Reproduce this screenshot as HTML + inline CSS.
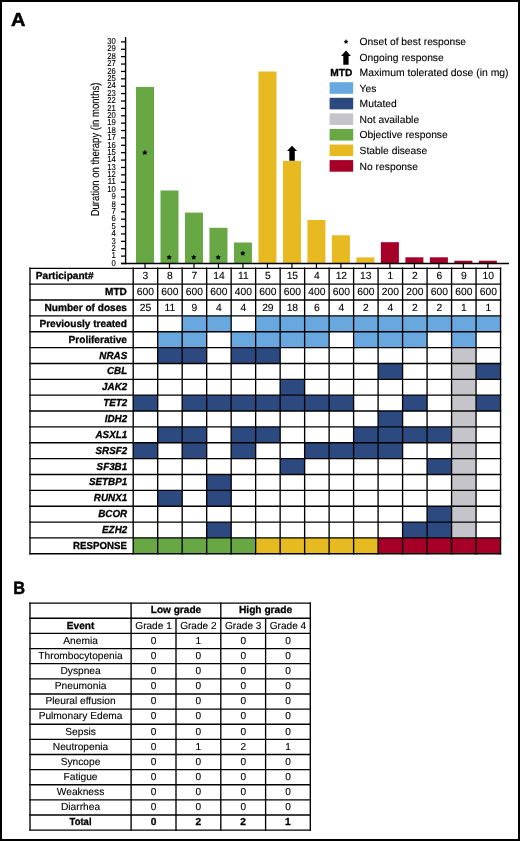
<!DOCTYPE html>
<html><head><meta charset="utf-8"><style>
html,body{margin:0;padding:0;background:#fff;}
#fig{position:relative;width:520px;height:841px;box-sizing:border-box;border:2px solid #000;overflow:hidden;background:#fff;}
svg{position:absolute;left:-2px;top:-2px;will-change:transform;}
text{text-rendering:geometricPrecision;font-family:"Liberation Sans",sans-serif;fill:#000;stroke:#000;stroke-width:0.12px;}
</style></head><body><div id="fig">
<svg width="520" height="841" viewBox="0 0 520 841">
<rect x="136.00" y="86.90" width="18.00" height="176.60" fill="#67A845"/>
<rect x="160.49" y="190.50" width="18.00" height="73.00" fill="#67A845"/>
<rect x="184.97" y="212.60" width="18.00" height="50.90" fill="#67A845"/>
<rect x="209.46" y="227.80" width="18.00" height="35.70" fill="#67A845"/>
<rect x="233.95" y="242.50" width="18.00" height="21.00" fill="#67A845"/>
<rect x="258.44" y="71.50" width="18.00" height="192.00" fill="#E7BA22"/>
<rect x="282.94" y="160.90" width="18.00" height="102.60" fill="#E7BA22"/>
<rect x="307.42" y="220.00" width="18.00" height="43.50" fill="#E7BA22"/>
<rect x="331.91" y="235.30" width="18.00" height="28.20" fill="#E7BA22"/>
<rect x="356.40" y="257.40" width="18.00" height="6.10" fill="#E7BA22"/>
<rect x="380.89" y="242.20" width="18.00" height="21.30" fill="#A60028"/>
<rect x="405.38" y="257.30" width="18.00" height="6.20" fill="#A60028"/>
<rect x="429.88" y="257.30" width="18.00" height="6.20" fill="#A60028"/>
<rect x="454.36" y="260.70" width="18.00" height="2.80" fill="#A60028"/>
<rect x="478.85" y="260.70" width="18.00" height="2.80" fill="#A60028"/>
<line x1="125.6" y1="37.1" x2="125.6" y2="264.2" stroke="#000" stroke-width="1.4"/>
<line x1="121" y1="263.50" x2="125.6" y2="263.50" stroke="#000" stroke-width="1.3"/>
<text transform="translate(115.90,265.70) scale(0.9,1)" font-size="8.6" text-anchor="end">0</text>
<line x1="121" y1="256.11" x2="125.6" y2="256.11" stroke="#000" stroke-width="1.3"/>
<text transform="translate(115.90,258.31) scale(0.9,1)" font-size="8.6" text-anchor="end">1</text>
<line x1="121" y1="248.73" x2="125.6" y2="248.73" stroke="#000" stroke-width="1.3"/>
<text transform="translate(115.90,250.93) scale(0.9,1)" font-size="8.6" text-anchor="end">2</text>
<line x1="121" y1="241.34" x2="125.6" y2="241.34" stroke="#000" stroke-width="1.3"/>
<text transform="translate(115.90,243.54) scale(0.9,1)" font-size="8.6" text-anchor="end">3</text>
<line x1="121" y1="233.95" x2="125.6" y2="233.95" stroke="#000" stroke-width="1.3"/>
<text transform="translate(115.90,236.15) scale(0.9,1)" font-size="8.6" text-anchor="end">4</text>
<line x1="121" y1="226.56" x2="125.6" y2="226.56" stroke="#000" stroke-width="1.3"/>
<text transform="translate(115.90,228.76) scale(0.9,1)" font-size="8.6" text-anchor="end">5</text>
<line x1="121" y1="219.18" x2="125.6" y2="219.18" stroke="#000" stroke-width="1.3"/>
<text transform="translate(115.90,221.38) scale(0.9,1)" font-size="8.6" text-anchor="end">6</text>
<line x1="121" y1="211.79" x2="125.6" y2="211.79" stroke="#000" stroke-width="1.3"/>
<text transform="translate(115.90,213.99) scale(0.9,1)" font-size="8.6" text-anchor="end">7</text>
<line x1="121" y1="204.40" x2="125.6" y2="204.40" stroke="#000" stroke-width="1.3"/>
<text transform="translate(115.90,206.60) scale(0.9,1)" font-size="8.6" text-anchor="end">8</text>
<line x1="121" y1="197.02" x2="125.6" y2="197.02" stroke="#000" stroke-width="1.3"/>
<text transform="translate(115.90,199.22) scale(0.9,1)" font-size="8.6" text-anchor="end">9</text>
<line x1="121" y1="189.63" x2="125.6" y2="189.63" stroke="#000" stroke-width="1.3"/>
<text transform="translate(115.90,191.83) scale(0.9,1)" font-size="8.6" text-anchor="end">10</text>
<line x1="121" y1="182.24" x2="125.6" y2="182.24" stroke="#000" stroke-width="1.3"/>
<text transform="translate(115.90,184.44) scale(0.9,1)" font-size="8.6" text-anchor="end">11</text>
<line x1="121" y1="174.86" x2="125.6" y2="174.86" stroke="#000" stroke-width="1.3"/>
<text transform="translate(115.90,177.06) scale(0.9,1)" font-size="8.6" text-anchor="end">12</text>
<line x1="121" y1="167.47" x2="125.6" y2="167.47" stroke="#000" stroke-width="1.3"/>
<text transform="translate(115.90,169.67) scale(0.9,1)" font-size="8.6" text-anchor="end">13</text>
<line x1="121" y1="160.08" x2="125.6" y2="160.08" stroke="#000" stroke-width="1.3"/>
<text transform="translate(115.90,162.28) scale(0.9,1)" font-size="8.6" text-anchor="end">14</text>
<line x1="121" y1="152.69" x2="125.6" y2="152.69" stroke="#000" stroke-width="1.3"/>
<text transform="translate(115.90,154.89) scale(0.9,1)" font-size="8.6" text-anchor="end">15</text>
<line x1="121" y1="145.31" x2="125.6" y2="145.31" stroke="#000" stroke-width="1.3"/>
<text transform="translate(115.90,147.51) scale(0.9,1)" font-size="8.6" text-anchor="end">16</text>
<line x1="121" y1="137.92" x2="125.6" y2="137.92" stroke="#000" stroke-width="1.3"/>
<text transform="translate(115.90,140.12) scale(0.9,1)" font-size="8.6" text-anchor="end">17</text>
<line x1="121" y1="130.53" x2="125.6" y2="130.53" stroke="#000" stroke-width="1.3"/>
<text transform="translate(115.90,132.73) scale(0.9,1)" font-size="8.6" text-anchor="end">18</text>
<line x1="121" y1="123.15" x2="125.6" y2="123.15" stroke="#000" stroke-width="1.3"/>
<text transform="translate(115.90,125.35) scale(0.9,1)" font-size="8.6" text-anchor="end">19</text>
<line x1="121" y1="115.76" x2="125.6" y2="115.76" stroke="#000" stroke-width="1.3"/>
<text transform="translate(115.90,117.96) scale(0.9,1)" font-size="8.6" text-anchor="end">20</text>
<line x1="121" y1="108.37" x2="125.6" y2="108.37" stroke="#000" stroke-width="1.3"/>
<text transform="translate(115.90,110.57) scale(0.9,1)" font-size="8.6" text-anchor="end">21</text>
<line x1="121" y1="100.99" x2="125.6" y2="100.99" stroke="#000" stroke-width="1.3"/>
<text transform="translate(115.90,103.19) scale(0.9,1)" font-size="8.6" text-anchor="end">22</text>
<line x1="121" y1="93.60" x2="125.6" y2="93.60" stroke="#000" stroke-width="1.3"/>
<text transform="translate(115.90,95.80) scale(0.9,1)" font-size="8.6" text-anchor="end">23</text>
<line x1="121" y1="86.21" x2="125.6" y2="86.21" stroke="#000" stroke-width="1.3"/>
<text transform="translate(115.90,88.41) scale(0.9,1)" font-size="8.6" text-anchor="end">24</text>
<line x1="121" y1="78.83" x2="125.6" y2="78.83" stroke="#000" stroke-width="1.3"/>
<text transform="translate(115.90,81.03) scale(0.9,1)" font-size="8.6" text-anchor="end">25</text>
<line x1="121" y1="71.44" x2="125.6" y2="71.44" stroke="#000" stroke-width="1.3"/>
<text transform="translate(115.90,73.64) scale(0.9,1)" font-size="8.6" text-anchor="end">26</text>
<line x1="121" y1="64.05" x2="125.6" y2="64.05" stroke="#000" stroke-width="1.3"/>
<text transform="translate(115.90,66.25) scale(0.9,1)" font-size="8.6" text-anchor="end">27</text>
<line x1="121" y1="56.66" x2="125.6" y2="56.66" stroke="#000" stroke-width="1.3"/>
<text transform="translate(115.90,58.86) scale(0.9,1)" font-size="8.6" text-anchor="end">28</text>
<line x1="121" y1="49.28" x2="125.6" y2="49.28" stroke="#000" stroke-width="1.3"/>
<text transform="translate(115.90,51.48) scale(0.9,1)" font-size="8.6" text-anchor="end">29</text>
<line x1="121" y1="41.89" x2="125.6" y2="41.89" stroke="#000" stroke-width="1.3"/>
<text transform="translate(115.90,44.09) scale(0.9,1)" font-size="8.6" text-anchor="end">30</text>
<line x1="121" y1="263.5" x2="509" y2="263.5" stroke="#000" stroke-width="1.3"/>
<line x1="145.00" y1="263.5" x2="145.00" y2="268.3" stroke="#000" stroke-width="1.2"/>
<line x1="169.49" y1="263.5" x2="169.49" y2="268.3" stroke="#000" stroke-width="1.2"/>
<line x1="193.97" y1="263.5" x2="193.97" y2="268.3" stroke="#000" stroke-width="1.2"/>
<line x1="218.46" y1="263.5" x2="218.46" y2="268.3" stroke="#000" stroke-width="1.2"/>
<line x1="242.95" y1="263.5" x2="242.95" y2="268.3" stroke="#000" stroke-width="1.2"/>
<line x1="267.44" y1="263.5" x2="267.44" y2="268.3" stroke="#000" stroke-width="1.2"/>
<line x1="291.94" y1="263.5" x2="291.94" y2="268.3" stroke="#000" stroke-width="1.2"/>
<line x1="316.42" y1="263.5" x2="316.42" y2="268.3" stroke="#000" stroke-width="1.2"/>
<line x1="340.91" y1="263.5" x2="340.91" y2="268.3" stroke="#000" stroke-width="1.2"/>
<line x1="365.40" y1="263.5" x2="365.40" y2="268.3" stroke="#000" stroke-width="1.2"/>
<line x1="389.89" y1="263.5" x2="389.89" y2="268.3" stroke="#000" stroke-width="1.2"/>
<line x1="414.38" y1="263.5" x2="414.38" y2="268.3" stroke="#000" stroke-width="1.2"/>
<line x1="438.88" y1="263.5" x2="438.88" y2="268.3" stroke="#000" stroke-width="1.2"/>
<line x1="463.36" y1="263.5" x2="463.36" y2="268.3" stroke="#000" stroke-width="1.2"/>
<line x1="487.85" y1="263.5" x2="487.85" y2="268.3" stroke="#000" stroke-width="1.2"/>
<text transform="translate(98.6,149.5) rotate(-90) scale(0.82,1)" text-anchor="middle" font-size="11.6">Duration on therapy (in months)</text>
<polygon points="144.80,149.70 145.65,151.43 147.56,151.70 146.18,153.05 146.50,154.95 144.80,154.05 143.10,154.95 143.42,153.05 142.04,151.70 143.95,151.43" fill="#000"/>
<polygon points="169.10,254.50 169.95,256.23 171.86,256.50 170.48,257.85 170.80,259.75 169.10,258.85 167.40,259.75 167.72,257.85 166.34,256.50 168.25,256.23" fill="#000"/>
<polygon points="193.80,254.50 194.65,256.23 196.56,256.50 195.18,257.85 195.50,259.75 193.80,258.85 192.10,259.75 192.42,257.85 191.04,256.50 192.95,256.23" fill="#000"/>
<polygon points="218.20,254.50 219.05,256.23 220.96,256.50 219.58,257.85 219.90,259.75 218.20,258.85 216.50,259.75 216.82,257.85 215.44,256.50 217.35,256.23" fill="#000"/>
<polygon points="242.80,250.50 243.65,252.23 245.56,252.50 244.18,253.85 244.50,255.75 242.80,254.85 241.10,255.75 241.42,253.85 240.04,252.50 241.95,252.23" fill="#000"/>
<polygon points="292.05,145.80 297.10,151.00 294.80,151.00 294.80,160.70 289.30,160.70 289.30,151.00 287.00,151.00" fill="#000"/>
<polygon points="346.05,39.10 346.81,40.65 348.52,40.90 347.29,42.10 347.58,43.80 346.05,43.00 344.52,43.80 344.81,42.10 343.58,40.90 345.29,40.65" fill="#000"/>
<polygon points="345.95,50.60 350.90,55.90 348.60,55.90 348.60,64.80 343.30,64.80 343.30,55.90 341.00,55.90" fill="#000"/>
<text x="359.60" y="44.90" font-size="10.3">Onset of best response</text>
<text x="359.60" y="60.50" font-size="10.3">Ongoing response</text>
<text x="330.30" y="76.10" font-size="10.2" font-weight="bold" style="stroke-width:0.3px">MTD</text>
<text x="359.60" y="76.10" font-size="10.4">Maximum tolerated dose (in mg)</text>
<rect x="329.6" y="82.20" width="23.6" height="11.6" fill="#68A8DE"/>
<text x="359.60" y="91.60" font-size="10.3">Yes</text>
<rect x="329.6" y="97.78" width="23.6" height="11.6" fill="#2C4A80"/>
<text x="359.60" y="107.18" font-size="10.3">Mutated</text>
<rect x="329.6" y="113.36" width="23.6" height="11.6" fill="#C5C4CA"/>
<text x="359.60" y="122.76" font-size="10.3">Not available</text>
<rect x="329.6" y="128.94" width="23.6" height="11.6" fill="#67A845"/>
<text x="359.60" y="138.34" font-size="10.3">Objective response</text>
<rect x="329.6" y="144.52" width="23.6" height="11.6" fill="#E7BA22"/>
<text x="359.60" y="153.92" font-size="10.3">Stable disease</text>
<rect x="329.6" y="160.10" width="23.6" height="11.6" fill="#A60028"/>
<text x="359.60" y="169.50" font-size="10.3">No response</text>
<rect x="182.18" y="315.88" width="24.49" height="15.86" fill="#68A8DE"/>
<rect x="206.67" y="315.88" width="24.49" height="15.86" fill="#68A8DE"/>
<rect x="255.65" y="315.88" width="24.49" height="15.86" fill="#68A8DE"/>
<rect x="280.14" y="315.88" width="24.49" height="15.86" fill="#68A8DE"/>
<rect x="304.63" y="315.88" width="24.49" height="15.86" fill="#68A8DE"/>
<rect x="329.12" y="315.88" width="24.49" height="15.86" fill="#68A8DE"/>
<rect x="353.61" y="315.88" width="24.49" height="15.86" fill="#68A8DE"/>
<rect x="378.10" y="315.88" width="24.49" height="15.86" fill="#68A8DE"/>
<rect x="402.59" y="315.88" width="24.49" height="15.86" fill="#68A8DE"/>
<rect x="427.08" y="315.88" width="24.49" height="15.86" fill="#68A8DE"/>
<rect x="451.57" y="315.88" width="24.49" height="15.86" fill="#68A8DE"/>
<rect x="476.06" y="315.88" width="24.49" height="15.86" fill="#68A8DE"/>
<rect x="157.69" y="331.74" width="24.49" height="15.86" fill="#68A8DE"/>
<rect x="182.18" y="331.74" width="24.49" height="15.86" fill="#68A8DE"/>
<rect x="231.16" y="331.74" width="24.49" height="15.86" fill="#68A8DE"/>
<rect x="255.65" y="331.74" width="24.49" height="15.86" fill="#68A8DE"/>
<rect x="280.14" y="331.74" width="24.49" height="15.86" fill="#68A8DE"/>
<rect x="304.63" y="331.74" width="24.49" height="15.86" fill="#68A8DE"/>
<rect x="353.61" y="331.74" width="24.49" height="15.86" fill="#68A8DE"/>
<rect x="378.10" y="331.74" width="24.49" height="15.86" fill="#68A8DE"/>
<rect x="402.59" y="331.74" width="24.49" height="15.86" fill="#68A8DE"/>
<rect x="451.57" y="331.74" width="24.49" height="15.86" fill="#68A8DE"/>
<rect x="157.69" y="347.60" width="24.49" height="15.86" fill="#2C4A80"/>
<rect x="182.18" y="347.60" width="24.49" height="15.86" fill="#2C4A80"/>
<rect x="231.16" y="347.60" width="24.49" height="15.86" fill="#2C4A80"/>
<rect x="255.65" y="347.60" width="24.49" height="15.86" fill="#2C4A80"/>
<rect x="451.57" y="347.60" width="24.49" height="15.86" fill="#C5C4CA"/>
<rect x="378.10" y="363.46" width="24.49" height="15.86" fill="#2C4A80"/>
<rect x="451.57" y="363.46" width="24.49" height="15.86" fill="#C5C4CA"/>
<rect x="476.06" y="363.46" width="24.49" height="15.86" fill="#2C4A80"/>
<rect x="280.14" y="379.32" width="24.49" height="15.86" fill="#2C4A80"/>
<rect x="451.57" y="379.32" width="24.49" height="15.86" fill="#C5C4CA"/>
<rect x="133.20" y="395.18" width="24.49" height="15.86" fill="#2C4A80"/>
<rect x="182.18" y="395.18" width="24.49" height="15.86" fill="#2C4A80"/>
<rect x="206.67" y="395.18" width="24.49" height="15.86" fill="#2C4A80"/>
<rect x="231.16" y="395.18" width="24.49" height="15.86" fill="#2C4A80"/>
<rect x="255.65" y="395.18" width="24.49" height="15.86" fill="#2C4A80"/>
<rect x="280.14" y="395.18" width="24.49" height="15.86" fill="#2C4A80"/>
<rect x="304.63" y="395.18" width="24.49" height="15.86" fill="#2C4A80"/>
<rect x="329.12" y="395.18" width="24.49" height="15.86" fill="#2C4A80"/>
<rect x="402.59" y="395.18" width="24.49" height="15.86" fill="#2C4A80"/>
<rect x="451.57" y="395.18" width="24.49" height="15.86" fill="#C5C4CA"/>
<rect x="476.06" y="395.18" width="24.49" height="15.86" fill="#2C4A80"/>
<rect x="378.10" y="411.04" width="24.49" height="15.86" fill="#2C4A80"/>
<rect x="451.57" y="411.04" width="24.49" height="15.86" fill="#C5C4CA"/>
<rect x="157.69" y="426.90" width="24.49" height="15.86" fill="#2C4A80"/>
<rect x="182.18" y="426.90" width="24.49" height="15.86" fill="#2C4A80"/>
<rect x="231.16" y="426.90" width="24.49" height="15.86" fill="#2C4A80"/>
<rect x="255.65" y="426.90" width="24.49" height="15.86" fill="#2C4A80"/>
<rect x="353.61" y="426.90" width="24.49" height="15.86" fill="#2C4A80"/>
<rect x="378.10" y="426.90" width="24.49" height="15.86" fill="#2C4A80"/>
<rect x="402.59" y="426.90" width="24.49" height="15.86" fill="#2C4A80"/>
<rect x="427.08" y="426.90" width="24.49" height="15.86" fill="#2C4A80"/>
<rect x="451.57" y="426.90" width="24.49" height="15.86" fill="#C5C4CA"/>
<rect x="133.20" y="442.76" width="24.49" height="15.86" fill="#2C4A80"/>
<rect x="182.18" y="442.76" width="24.49" height="15.86" fill="#2C4A80"/>
<rect x="231.16" y="442.76" width="24.49" height="15.86" fill="#2C4A80"/>
<rect x="304.63" y="442.76" width="24.49" height="15.86" fill="#2C4A80"/>
<rect x="329.12" y="442.76" width="24.49" height="15.86" fill="#2C4A80"/>
<rect x="353.61" y="442.76" width="24.49" height="15.86" fill="#2C4A80"/>
<rect x="378.10" y="442.76" width="24.49" height="15.86" fill="#2C4A80"/>
<rect x="451.57" y="442.76" width="24.49" height="15.86" fill="#C5C4CA"/>
<rect x="280.14" y="458.62" width="24.49" height="15.86" fill="#2C4A80"/>
<rect x="427.08" y="458.62" width="24.49" height="15.86" fill="#2C4A80"/>
<rect x="451.57" y="458.62" width="24.49" height="15.86" fill="#C5C4CA"/>
<rect x="206.67" y="474.48" width="24.49" height="15.86" fill="#2C4A80"/>
<rect x="451.57" y="474.48" width="24.49" height="15.86" fill="#C5C4CA"/>
<rect x="157.69" y="490.34" width="24.49" height="15.86" fill="#2C4A80"/>
<rect x="206.67" y="490.34" width="24.49" height="15.86" fill="#2C4A80"/>
<rect x="451.57" y="490.34" width="24.49" height="15.86" fill="#C5C4CA"/>
<rect x="427.08" y="506.20" width="24.49" height="15.86" fill="#2C4A80"/>
<rect x="451.57" y="506.20" width="24.49" height="15.86" fill="#C5C4CA"/>
<rect x="206.67" y="522.06" width="24.49" height="15.86" fill="#2C4A80"/>
<rect x="402.59" y="522.06" width="24.49" height="15.86" fill="#2C4A80"/>
<rect x="427.08" y="522.06" width="24.49" height="15.86" fill="#2C4A80"/>
<rect x="451.57" y="522.06" width="24.49" height="15.86" fill="#C5C4CA"/>
<rect x="133.20" y="537.92" width="24.49" height="15.86" fill="#67A845"/>
<rect x="157.69" y="537.92" width="24.49" height="15.86" fill="#67A845"/>
<rect x="182.18" y="537.92" width="24.49" height="15.86" fill="#67A845"/>
<rect x="206.67" y="537.92" width="24.49" height="15.86" fill="#67A845"/>
<rect x="231.16" y="537.92" width="24.49" height="15.86" fill="#67A845"/>
<rect x="255.65" y="537.92" width="24.49" height="15.86" fill="#E7BA22"/>
<rect x="280.14" y="537.92" width="24.49" height="15.86" fill="#E7BA22"/>
<rect x="304.63" y="537.92" width="24.49" height="15.86" fill="#E7BA22"/>
<rect x="329.12" y="537.92" width="24.49" height="15.86" fill="#E7BA22"/>
<rect x="353.61" y="537.92" width="24.49" height="15.86" fill="#E7BA22"/>
<rect x="378.10" y="537.92" width="24.49" height="15.86" fill="#A60028"/>
<rect x="402.59" y="537.92" width="24.49" height="15.86" fill="#A60028"/>
<rect x="427.08" y="537.92" width="24.49" height="15.86" fill="#A60028"/>
<rect x="451.57" y="537.92" width="24.49" height="15.86" fill="#A60028"/>
<rect x="476.06" y="537.92" width="24.49" height="15.86" fill="#A60028"/>
<line x1="29.30" y1="268.30" x2="501.25" y2="268.30" stroke="#000" stroke-width="1.35"/>
<line x1="29.30" y1="284.16" x2="501.25" y2="284.16" stroke="#000" stroke-width="1.35"/>
<line x1="29.30" y1="300.02" x2="501.25" y2="300.02" stroke="#000" stroke-width="1.35"/>
<line x1="29.30" y1="315.88" x2="501.25" y2="315.88" stroke="#000" stroke-width="1.35"/>
<line x1="29.30" y1="331.74" x2="501.25" y2="331.74" stroke="#000" stroke-width="1.35"/>
<line x1="29.30" y1="347.60" x2="501.25" y2="347.60" stroke="#000" stroke-width="1.35"/>
<line x1="29.30" y1="363.46" x2="501.25" y2="363.46" stroke="#000" stroke-width="1.35"/>
<line x1="29.30" y1="379.32" x2="501.25" y2="379.32" stroke="#000" stroke-width="1.35"/>
<line x1="29.30" y1="395.18" x2="501.25" y2="395.18" stroke="#000" stroke-width="1.35"/>
<line x1="29.30" y1="411.04" x2="501.25" y2="411.04" stroke="#000" stroke-width="1.35"/>
<line x1="29.30" y1="426.90" x2="501.25" y2="426.90" stroke="#000" stroke-width="1.35"/>
<line x1="29.30" y1="442.76" x2="501.25" y2="442.76" stroke="#000" stroke-width="1.35"/>
<line x1="29.30" y1="458.62" x2="501.25" y2="458.62" stroke="#000" stroke-width="1.35"/>
<line x1="29.30" y1="474.48" x2="501.25" y2="474.48" stroke="#000" stroke-width="1.35"/>
<line x1="29.30" y1="490.34" x2="501.25" y2="490.34" stroke="#000" stroke-width="1.35"/>
<line x1="29.30" y1="506.20" x2="501.25" y2="506.20" stroke="#000" stroke-width="1.35"/>
<line x1="29.30" y1="522.06" x2="501.25" y2="522.06" stroke="#000" stroke-width="1.35"/>
<line x1="29.30" y1="537.92" x2="501.25" y2="537.92" stroke="#000" stroke-width="1.35"/>
<line x1="29.30" y1="553.78" x2="501.25" y2="553.78" stroke="#000" stroke-width="1.35"/>
<line x1="30.00" y1="267.60" x2="30.00" y2="554.48" stroke="#000" stroke-width="1.35"/>
<line x1="133.20" y1="267.60" x2="133.20" y2="554.48" stroke="#000" stroke-width="1.35"/>
<line x1="157.69" y1="267.60" x2="157.69" y2="554.48" stroke="#000" stroke-width="1.35"/>
<line x1="182.18" y1="267.60" x2="182.18" y2="554.48" stroke="#000" stroke-width="1.35"/>
<line x1="206.67" y1="267.60" x2="206.67" y2="554.48" stroke="#000" stroke-width="1.35"/>
<line x1="231.16" y1="267.60" x2="231.16" y2="554.48" stroke="#000" stroke-width="1.35"/>
<line x1="255.65" y1="267.60" x2="255.65" y2="554.48" stroke="#000" stroke-width="1.35"/>
<line x1="280.14" y1="267.60" x2="280.14" y2="554.48" stroke="#000" stroke-width="1.35"/>
<line x1="304.63" y1="267.60" x2="304.63" y2="554.48" stroke="#000" stroke-width="1.35"/>
<line x1="329.12" y1="267.60" x2="329.12" y2="554.48" stroke="#000" stroke-width="1.35"/>
<line x1="353.61" y1="267.60" x2="353.61" y2="554.48" stroke="#000" stroke-width="1.35"/>
<line x1="378.10" y1="267.60" x2="378.10" y2="554.48" stroke="#000" stroke-width="1.35"/>
<line x1="402.59" y1="267.60" x2="402.59" y2="554.48" stroke="#000" stroke-width="1.35"/>
<line x1="427.08" y1="267.60" x2="427.08" y2="554.48" stroke="#000" stroke-width="1.35"/>
<line x1="451.57" y1="267.60" x2="451.57" y2="554.48" stroke="#000" stroke-width="1.35"/>
<line x1="476.06" y1="267.60" x2="476.06" y2="554.48" stroke="#000" stroke-width="1.35"/>
<line x1="500.55" y1="267.60" x2="500.55" y2="554.48" stroke="#000" stroke-width="1.35"/>
<text transform="translate(35.80,279.30) scale(0.99,1)" font-size="10.2" font-weight="bold" style="stroke-width:0.3px">Participant#</text>
<text transform="translate(126.90,295.16) scale(0.99,1)" font-size="10.2" font-weight="bold" text-anchor="end" style="stroke-width:0.3px">MTD</text>
<text transform="translate(126.90,311.02) scale(0.99,1)" font-size="10.2" font-weight="bold" text-anchor="end" style="stroke-width:0.3px">Number of doses</text>
<text transform="translate(126.90,326.88) scale(0.99,1)" font-size="10.2" font-weight="bold" text-anchor="end" style="stroke-width:0.3px">Previously treated</text>
<text transform="translate(126.90,342.74) scale(0.99,1)" font-size="10.2" font-weight="bold" text-anchor="end" style="stroke-width:0.3px">Proliferative</text>
<text transform="translate(127.20,358.60) scale(0.965,1)" font-size="10.2" font-weight="bold" font-style="italic" text-anchor="end" style="stroke-width:0.3px">NRAS</text>
<text transform="translate(127.20,374.46) scale(0.965,1)" font-size="10.2" font-weight="bold" font-style="italic" text-anchor="end" style="stroke-width:0.3px">CBL</text>
<text transform="translate(127.20,390.32) scale(0.965,1)" font-size="10.2" font-weight="bold" font-style="italic" text-anchor="end" style="stroke-width:0.3px">JAK2</text>
<text transform="translate(127.20,406.18) scale(0.965,1)" font-size="10.2" font-weight="bold" font-style="italic" text-anchor="end" style="stroke-width:0.3px">TET2</text>
<text transform="translate(127.20,422.04) scale(0.965,1)" font-size="10.2" font-weight="bold" font-style="italic" text-anchor="end" style="stroke-width:0.3px">IDH2</text>
<text transform="translate(127.20,437.90) scale(0.965,1)" font-size="10.2" font-weight="bold" font-style="italic" text-anchor="end" style="stroke-width:0.3px">ASXL1</text>
<text transform="translate(127.20,453.76) scale(0.965,1)" font-size="10.2" font-weight="bold" font-style="italic" text-anchor="end" style="stroke-width:0.3px">SRSF2</text>
<text transform="translate(127.20,469.62) scale(0.965,1)" font-size="10.2" font-weight="bold" font-style="italic" text-anchor="end" style="stroke-width:0.3px">SF3B1</text>
<text transform="translate(127.20,485.48) scale(0.965,1)" font-size="10.2" font-weight="bold" font-style="italic" text-anchor="end" style="stroke-width:0.3px">SETBP1</text>
<text transform="translate(127.20,501.34) scale(0.965,1)" font-size="10.2" font-weight="bold" font-style="italic" text-anchor="end" style="stroke-width:0.3px">RUNX1</text>
<text transform="translate(127.20,517.20) scale(0.965,1)" font-size="10.2" font-weight="bold" font-style="italic" text-anchor="end" style="stroke-width:0.3px">BCOR</text>
<text transform="translate(127.20,533.06) scale(0.965,1)" font-size="10.2" font-weight="bold" font-style="italic" text-anchor="end" style="stroke-width:0.3px">EZH2</text>
<text transform="translate(126.90,548.92) scale(0.95,1)" font-size="10.2" font-weight="bold" text-anchor="end" style="stroke-width:0.3px">RESPONSE</text>
<text x="145.44" y="278.90" font-size="10.3" text-anchor="middle">3</text>
<text x="169.94" y="278.90" font-size="10.3" text-anchor="middle">8</text>
<text x="194.42" y="278.90" font-size="10.3" text-anchor="middle">7</text>
<text x="218.91" y="278.90" font-size="10.3" text-anchor="middle">14</text>
<text x="243.40" y="278.90" font-size="10.3" text-anchor="middle">11</text>
<text x="267.89" y="278.90" font-size="10.3" text-anchor="middle">5</text>
<text x="292.38" y="278.90" font-size="10.3" text-anchor="middle">15</text>
<text x="316.88" y="278.90" font-size="10.3" text-anchor="middle">4</text>
<text x="341.37" y="278.90" font-size="10.3" text-anchor="middle">12</text>
<text x="365.85" y="278.90" font-size="10.3" text-anchor="middle">13</text>
<text x="390.34" y="278.90" font-size="10.3" text-anchor="middle">1</text>
<text x="414.83" y="278.90" font-size="10.3" text-anchor="middle">2</text>
<text x="439.32" y="278.90" font-size="10.3" text-anchor="middle">6</text>
<text x="463.81" y="278.90" font-size="10.3" text-anchor="middle">9</text>
<text x="488.30" y="278.90" font-size="10.3" text-anchor="middle">10</text>
<text x="145.44" y="294.76" font-size="10.3" text-anchor="middle">600</text>
<text x="169.94" y="294.76" font-size="10.3" text-anchor="middle">600</text>
<text x="194.42" y="294.76" font-size="10.3" text-anchor="middle">600</text>
<text x="218.91" y="294.76" font-size="10.3" text-anchor="middle">600</text>
<text x="243.40" y="294.76" font-size="10.3" text-anchor="middle">400</text>
<text x="267.89" y="294.76" font-size="10.3" text-anchor="middle">600</text>
<text x="292.38" y="294.76" font-size="10.3" text-anchor="middle">600</text>
<text x="316.88" y="294.76" font-size="10.3" text-anchor="middle">400</text>
<text x="341.37" y="294.76" font-size="10.3" text-anchor="middle">600</text>
<text x="365.85" y="294.76" font-size="10.3" text-anchor="middle">600</text>
<text x="390.34" y="294.76" font-size="10.3" text-anchor="middle">200</text>
<text x="414.83" y="294.76" font-size="10.3" text-anchor="middle">200</text>
<text x="439.32" y="294.76" font-size="10.3" text-anchor="middle">600</text>
<text x="463.81" y="294.76" font-size="10.3" text-anchor="middle">600</text>
<text x="488.30" y="294.76" font-size="10.3" text-anchor="middle">600</text>
<text x="145.44" y="310.62" font-size="10.3" text-anchor="middle">25</text>
<text x="169.94" y="310.62" font-size="10.3" text-anchor="middle">11</text>
<text x="194.42" y="310.62" font-size="10.3" text-anchor="middle">9</text>
<text x="218.91" y="310.62" font-size="10.3" text-anchor="middle">4</text>
<text x="243.40" y="310.62" font-size="10.3" text-anchor="middle">4</text>
<text x="267.89" y="310.62" font-size="10.3" text-anchor="middle">29</text>
<text x="292.38" y="310.62" font-size="10.3" text-anchor="middle">18</text>
<text x="316.88" y="310.62" font-size="10.3" text-anchor="middle">6</text>
<text x="341.37" y="310.62" font-size="10.3" text-anchor="middle">4</text>
<text x="365.85" y="310.62" font-size="10.3" text-anchor="middle">2</text>
<text x="390.34" y="310.62" font-size="10.3" text-anchor="middle">4</text>
<text x="414.83" y="310.62" font-size="10.3" text-anchor="middle">2</text>
<text x="439.32" y="310.62" font-size="10.3" text-anchor="middle">2</text>
<text x="463.81" y="310.62" font-size="10.3" text-anchor="middle">1</text>
<text x="488.30" y="310.62" font-size="10.3" text-anchor="middle">1</text>
<line x1="29.30" y1="603.15" x2="311.00" y2="603.15" stroke="#000" stroke-width="1.35"/>
<line x1="29.30" y1="618.28" x2="311.00" y2="618.28" stroke="#000" stroke-width="1.35"/>
<line x1="29.30" y1="633.42" x2="311.00" y2="633.42" stroke="#000" stroke-width="1.35"/>
<line x1="29.30" y1="648.55" x2="311.00" y2="648.55" stroke="#000" stroke-width="1.35"/>
<line x1="29.30" y1="663.68" x2="311.00" y2="663.68" stroke="#000" stroke-width="1.35"/>
<line x1="29.30" y1="678.81" x2="311.00" y2="678.81" stroke="#000" stroke-width="1.35"/>
<line x1="29.30" y1="693.95" x2="311.00" y2="693.95" stroke="#000" stroke-width="1.35"/>
<line x1="29.30" y1="709.08" x2="311.00" y2="709.08" stroke="#000" stroke-width="1.35"/>
<line x1="29.30" y1="724.21" x2="311.00" y2="724.21" stroke="#000" stroke-width="1.35"/>
<line x1="29.30" y1="739.35" x2="311.00" y2="739.35" stroke="#000" stroke-width="1.35"/>
<line x1="29.30" y1="754.48" x2="311.00" y2="754.48" stroke="#000" stroke-width="1.35"/>
<line x1="29.30" y1="769.61" x2="311.00" y2="769.61" stroke="#000" stroke-width="1.35"/>
<line x1="29.30" y1="784.75" x2="311.00" y2="784.75" stroke="#000" stroke-width="1.35"/>
<line x1="29.30" y1="799.88" x2="311.00" y2="799.88" stroke="#000" stroke-width="1.35"/>
<line x1="29.30" y1="815.01" x2="311.00" y2="815.01" stroke="#000" stroke-width="1.35"/>
<line x1="29.30" y1="830.14" x2="311.00" y2="830.14" stroke="#000" stroke-width="1.35"/>
<line x1="30.00" y1="602.45" x2="30.00" y2="830.85" stroke="#000" stroke-width="1.35"/>
<line x1="131.10" y1="602.45" x2="131.10" y2="830.85" stroke="#000" stroke-width="1.35"/>
<line x1="176.00" y1="618.28" x2="176.00" y2="830.85" stroke="#000" stroke-width="1.35"/>
<line x1="220.80" y1="602.45" x2="220.80" y2="830.85" stroke="#000" stroke-width="1.35"/>
<line x1="265.60" y1="618.28" x2="265.60" y2="830.85" stroke="#000" stroke-width="1.35"/>
<line x1="310.30" y1="602.45" x2="310.30" y2="830.85" stroke="#000" stroke-width="1.35"/>
<text transform="translate(175.95,613.45) scale(0.99,1)" font-size="10.2" font-weight="bold" text-anchor="middle" style="stroke-width:0.3px">Low grade</text>
<text x="265.55" y="613.45" font-size="10.2" font-weight="bold" text-anchor="middle" style="stroke-width:0.3px">High grade</text>
<text transform="translate(80.55,628.58) scale(0.99,1)" font-size="10.2" font-weight="bold" text-anchor="middle" style="stroke-width:0.3px">Event</text>
<text x="153.55" y="628.58" font-size="10.1" text-anchor="middle">Grade 1</text>
<text x="198.40" y="628.58" font-size="10.1" text-anchor="middle">Grade 2</text>
<text x="243.20" y="628.58" font-size="10.1" text-anchor="middle">Grade 3</text>
<text x="287.95" y="628.58" font-size="10.1" text-anchor="middle">Grade 4</text>
<text x="80.55" y="643.72" font-size="10.2" text-anchor="middle">Anemia</text>
<text x="153.55" y="643.72" font-size="10.1" text-anchor="middle">0</text>
<text x="198.40" y="643.72" font-size="10.1" text-anchor="middle">1</text>
<text x="243.20" y="643.72" font-size="10.1" text-anchor="middle">0</text>
<text x="287.95" y="643.72" font-size="10.1" text-anchor="middle">0</text>
<text x="80.55" y="658.85" font-size="10.2" text-anchor="middle">Thrombocytopenia</text>
<text x="153.55" y="658.85" font-size="10.1" text-anchor="middle">0</text>
<text x="198.40" y="658.85" font-size="10.1" text-anchor="middle">0</text>
<text x="243.20" y="658.85" font-size="10.1" text-anchor="middle">0</text>
<text x="287.95" y="658.85" font-size="10.1" text-anchor="middle">0</text>
<text x="80.55" y="673.98" font-size="10.2" text-anchor="middle">Dyspnea</text>
<text x="153.55" y="673.98" font-size="10.1" text-anchor="middle">0</text>
<text x="198.40" y="673.98" font-size="10.1" text-anchor="middle">0</text>
<text x="243.20" y="673.98" font-size="10.1" text-anchor="middle">0</text>
<text x="287.95" y="673.98" font-size="10.1" text-anchor="middle">0</text>
<text x="80.55" y="689.11" font-size="10.2" text-anchor="middle">Pneumonia</text>
<text x="153.55" y="689.11" font-size="10.1" text-anchor="middle">0</text>
<text x="198.40" y="689.11" font-size="10.1" text-anchor="middle">0</text>
<text x="243.20" y="689.11" font-size="10.1" text-anchor="middle">0</text>
<text x="287.95" y="689.11" font-size="10.1" text-anchor="middle">0</text>
<text x="80.55" y="704.25" font-size="10.2" text-anchor="middle">Pleural effusion</text>
<text x="153.55" y="704.25" font-size="10.1" text-anchor="middle">0</text>
<text x="198.40" y="704.25" font-size="10.1" text-anchor="middle">0</text>
<text x="243.20" y="704.25" font-size="10.1" text-anchor="middle">0</text>
<text x="287.95" y="704.25" font-size="10.1" text-anchor="middle">0</text>
<text x="80.55" y="719.38" font-size="10.2" text-anchor="middle">Pulmonary Edema</text>
<text x="153.55" y="719.38" font-size="10.1" text-anchor="middle">0</text>
<text x="198.40" y="719.38" font-size="10.1" text-anchor="middle">0</text>
<text x="243.20" y="719.38" font-size="10.1" text-anchor="middle">0</text>
<text x="287.95" y="719.38" font-size="10.1" text-anchor="middle">0</text>
<text x="80.55" y="734.51" font-size="10.2" text-anchor="middle">Sepsis</text>
<text x="153.55" y="734.51" font-size="10.1" text-anchor="middle">0</text>
<text x="198.40" y="734.51" font-size="10.1" text-anchor="middle">0</text>
<text x="243.20" y="734.51" font-size="10.1" text-anchor="middle">0</text>
<text x="287.95" y="734.51" font-size="10.1" text-anchor="middle">0</text>
<text x="80.55" y="749.65" font-size="10.2" text-anchor="middle">Neutropenia</text>
<text x="153.55" y="749.65" font-size="10.1" text-anchor="middle">0</text>
<text x="198.40" y="749.65" font-size="10.1" text-anchor="middle">1</text>
<text x="243.20" y="749.65" font-size="10.1" text-anchor="middle">2</text>
<text x="287.95" y="749.65" font-size="10.1" text-anchor="middle">1</text>
<text x="80.55" y="764.78" font-size="10.2" text-anchor="middle">Syncope</text>
<text x="153.55" y="764.78" font-size="10.1" text-anchor="middle">0</text>
<text x="198.40" y="764.78" font-size="10.1" text-anchor="middle">0</text>
<text x="243.20" y="764.78" font-size="10.1" text-anchor="middle">0</text>
<text x="287.95" y="764.78" font-size="10.1" text-anchor="middle">0</text>
<text x="80.55" y="779.91" font-size="10.2" text-anchor="middle">Fatigue</text>
<text x="153.55" y="779.91" font-size="10.1" text-anchor="middle">0</text>
<text x="198.40" y="779.91" font-size="10.1" text-anchor="middle">0</text>
<text x="243.20" y="779.91" font-size="10.1" text-anchor="middle">0</text>
<text x="287.95" y="779.91" font-size="10.1" text-anchor="middle">0</text>
<text x="80.55" y="795.05" font-size="10.2" text-anchor="middle">Weakness</text>
<text x="153.55" y="795.05" font-size="10.1" text-anchor="middle">0</text>
<text x="198.40" y="795.05" font-size="10.1" text-anchor="middle">0</text>
<text x="243.20" y="795.05" font-size="10.1" text-anchor="middle">0</text>
<text x="287.95" y="795.05" font-size="10.1" text-anchor="middle">0</text>
<text x="80.55" y="810.18" font-size="10.2" text-anchor="middle">Diarrhea</text>
<text x="153.55" y="810.18" font-size="10.1" text-anchor="middle">0</text>
<text x="198.40" y="810.18" font-size="10.1" text-anchor="middle">0</text>
<text x="243.20" y="810.18" font-size="10.1" text-anchor="middle">0</text>
<text x="287.95" y="810.18" font-size="10.1" text-anchor="middle">0</text>
<text transform="translate(80.55,825.31) scale(0.93,1)" font-size="10.2" font-weight="bold" text-anchor="middle" style="stroke-width:0.3px">Total</text>
<text x="153.55" y="825.31" font-size="10.2" font-weight="bold" text-anchor="middle" style="stroke-width:0.3px">0</text>
<text x="198.40" y="825.31" font-size="10.2" font-weight="bold" text-anchor="middle" style="stroke-width:0.3px">2</text>
<text x="243.20" y="825.31" font-size="10.2" font-weight="bold" text-anchor="middle" style="stroke-width:0.3px">2</text>
<text x="287.95" y="825.31" font-size="10.2" font-weight="bold" text-anchor="middle" style="stroke-width:0.3px">1</text>
<text transform="translate(10.90,26.30) scale(1.06,1)" font-size="18.9" font-weight="bold" style="stroke-width:0.5px">A</text>
<text transform="translate(13.30,593.50) scale(0.92,1)" font-size="17.8" font-weight="bold" style="stroke-width:0.5px">B</text>
</svg></div></body></html>
